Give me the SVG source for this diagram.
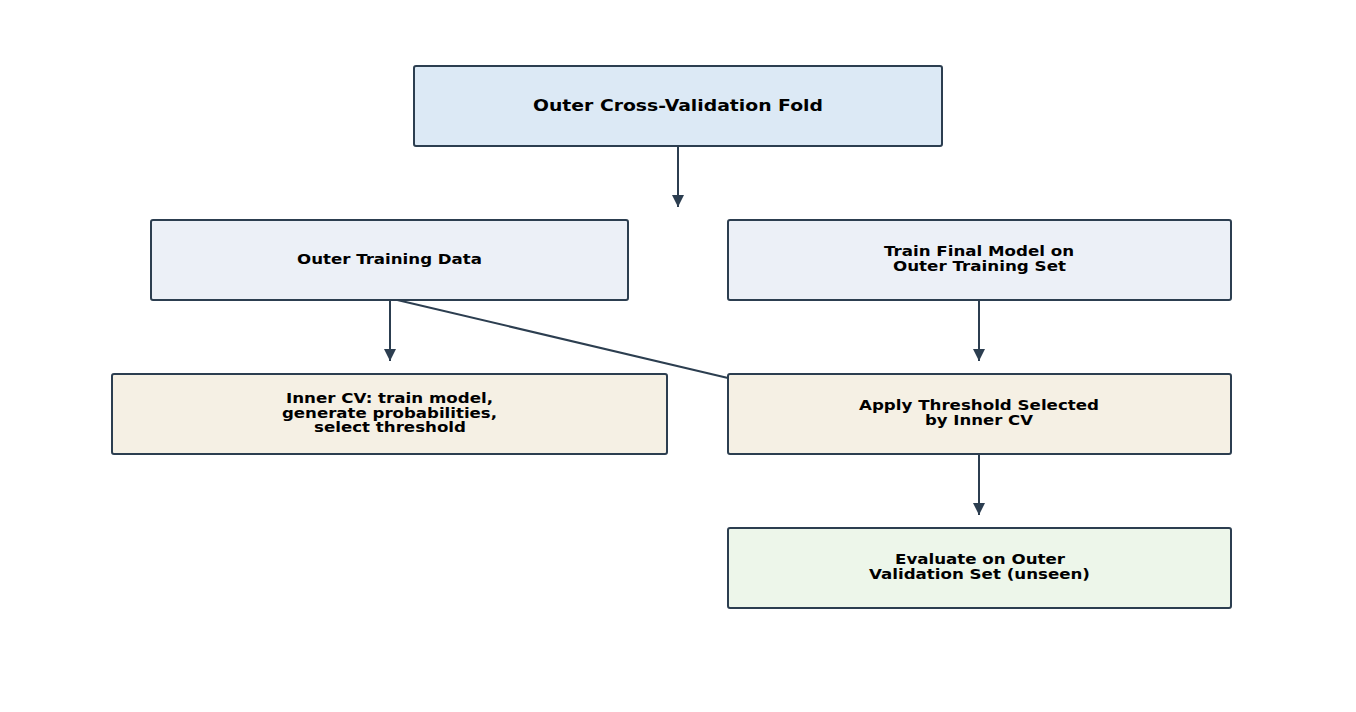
<svg xmlns="http://www.w3.org/2000/svg" width="1356" height="712" viewBox="0 0 1356 712">
<style>
.box{stroke:#2c3e50;stroke-width:2}
.t{font-family:"DejaVu Sans",sans-serif;font-weight:bold;fill:#000;text-anchor:middle;font-size:13.5px}
.edge{stroke:#2c3e50;stroke-width:2;fill:none}
</style>
<defs>
<marker id="ah" markerWidth="12" markerHeight="12" viewBox="0 0 12 12" refX="12" refY="6" orient="auto" markerUnits="userSpaceOnUse">
<path d="M0,0 L12,6 L0,12 z" fill="#2c3e50"/>
</marker>
</defs>
<rect width="1356" height="712" fill="#fff"/>
<g id="connectors">
<line class="edge" x1="678" y1="146" x2="678" y2="207" marker-end="url(#ah)"/>
<line class="edge" x1="390" y1="300" x2="390" y2="361" marker-end="url(#ah)"/>
<line class="edge" x1="979" y1="300" x2="979" y2="361" marker-end="url(#ah)"/>
<line class="edge" x1="979" y1="454" x2="979" y2="515" marker-end="url(#ah)"/>
<line class="edge" x1="393" y1="299" x2="728" y2="378"/>
</g>
<g id="outer_fold">
<rect class="box" x="414" y="66" width="528" height="80" rx="2" fill="#dce9f5"/>
<text class="t" x="678" y="111" style="font-size:16px" textLength="290" lengthAdjust="spacingAndGlyphs">Outer Cross-Validation Fold</text>
</g>
<g id="outer_training">
<rect class="box" x="151" y="220" width="477" height="80" rx="2" fill="#ecf0f7"/>
<text class="t" x="389.5" y="263.5" textLength="185" lengthAdjust="spacingAndGlyphs">Outer Training Data</text>
</g>
<g id="train_final">
<rect class="box" x="728" y="220" width="503" height="80" rx="2" fill="#ecf0f7"/>
<text class="t" x="979" y="256" textLength="190" lengthAdjust="spacingAndGlyphs">Train Final Model on</text>
<text class="t" x="979.5" y="270.5" textLength="173" lengthAdjust="spacingAndGlyphs">Outer Training Set</text>
</g>
<g id="inner_cv">
<rect class="box" x="112" y="374" width="555" height="80" rx="2" fill="#f5f0e4"/>
<text class="t" x="389.5" y="403" textLength="207" lengthAdjust="spacingAndGlyphs">Inner CV: train model,</text>
<text class="t" x="389.5" y="417.5" textLength="215" lengthAdjust="spacingAndGlyphs">generate probabilities,</text>
<text class="t" x="390" y="432" textLength="152" lengthAdjust="spacingAndGlyphs">select threshold</text>
</g>
<g id="apply_threshold">
<rect class="box" x="728" y="374" width="503" height="80" rx="2" fill="#f5f0e4"/>
<text class="t" x="979" y="410" textLength="240" lengthAdjust="spacingAndGlyphs">Apply Threshold Selected</text>
<text class="t" x="979" y="424.5" textLength="108" lengthAdjust="spacingAndGlyphs">by Inner CV</text>
</g>
<g id="evaluate">
<rect class="box" x="728" y="528" width="503" height="80" rx="2" fill="#edf6ea"/>
<text class="t" x="980" y="564" textLength="170" lengthAdjust="spacingAndGlyphs">Evaluate on Outer</text>
<text class="t" x="979.5" y="578.5" textLength="221" lengthAdjust="spacingAndGlyphs">Validation Set (unseen)</text>
</g>
</svg>
